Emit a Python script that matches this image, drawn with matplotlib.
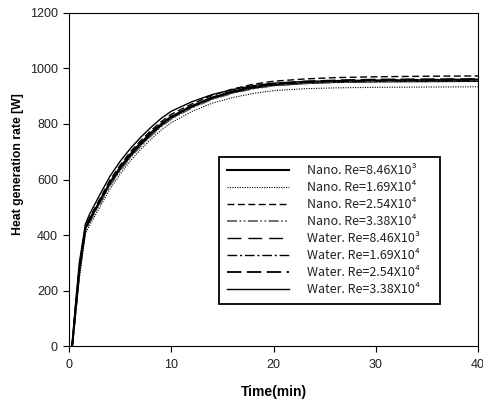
import matplotlib
matplotlib.use('Agg')
import matplotlib.pyplot as plt

# time axis (min) shared by all runs
time = [0.3, 0.6, 1.0, 1.6, 2, 3, 4, 5, 6, 7, 8, 9, 10, 12, 14, 16, 18, 20, 23, 26, 30, 35, 40]

nano_846e3 = [0, 120, 270, 425, 455, 520, 585, 638, 685, 725, 762, 795, 822, 862, 892, 914, 930, 940, 947, 951, 953, 954, 955]
nano_169e4 = [0, 95, 240, 405, 435, 500, 565, 620, 668, 708, 745, 778, 805, 845, 875, 895, 910, 920, 927, 930, 932, 933, 934]
nano_254e4 = [0, 125, 285, 430, 462, 530, 598, 652, 700, 740, 776, 808, 835, 872, 903, 926, 943, 954, 962, 967, 970, 972, 973]
nano_338e4 = [0, 105, 258, 415, 445, 512, 578, 632, 680, 720, 757, 790, 818, 858, 889, 911, 927, 938, 946, 951, 954, 956, 957]
water_846e3 = [0, 120, 275, 428, 458, 525, 592, 646, 694, 734, 770, 802, 828, 866, 896, 918, 934, 944, 952, 956, 959, 960, 961]
water_169e4 = [0, 110, 265, 420, 450, 518, 584, 640, 688, 728, 764, 796, 824, 862, 893, 915, 930, 941, 949, 953, 956, 957, 958]
water_254e4 = [0, 115, 272, 425, 455, 522, 590, 645, 692, 732, 768, 800, 827, 865, 896, 918, 934, 945, 953, 957, 960, 961, 962]
water_338e4 = [0, 140, 300, 440, 475, 545, 612, 666, 712, 752, 788, 820, 846, 880, 906, 924, 938, 947, 953, 956, 958, 959, 960]

labels = ['Nano. Re=8.46X10³', 'Nano. Re=1.69X10⁴', 'Nano. Re=2.54X10⁴', 'Nano. Re=3.38X10⁴',
          'Water. Re=8.46X10³', 'Water. Re=1.69X10⁴', 'Water. Re=2.54X10⁴', 'Water. Re=3.38X10⁴']
series = [nano_846e3, nano_169e4, nano_254e4, nano_338e4,
          water_846e3, water_169e4, water_254e4, water_338e4]

styles = [
    dict(color='black', lw=1.5, ls='-'),
    dict(color='black', lw=0.8, ls=(0, (1, 1.2))),
    dict(color='black', lw=1.0, ls=(0, (5, 2.5))),
    dict(color='#555555', lw=1.2, ls=(0, (6, 1.5, 1, 1.5, 1, 1.5))),
    dict(color='black', lw=1.0, ls=(0, (10, 5))),
    dict(color='black', lw=1.0, ls=(0, (7, 2, 1.5, 2))),
    dict(color='black', lw=1.3, ls=(0, (8, 3))),
    dict(color='black', lw=1.0, ls='-'),
]

fig = plt.figure(figsize=(4.83, 4.03), dpi=100)
ax = fig.add_axes([0.143, 0.141, 0.847, 0.827])

for y, lab, st in zip(series, labels, styles):
    ax.plot(time, y, label=lab, **st)

ax.set_xlim(0, 40)
ax.set_ylim(0, 1200)
ax.set_xticks([0, 10, 20, 30, 40])
ax.set_yticks(range(0, 1201, 200))
ax.tick_params(direction='out', length=4.5, width=0.8, labelsize=9)
ax.tick_params(axis='x', pad=5)
ax.tick_params(axis='y', pad=3.5)
for t in ax.get_xticklabels() + ax.get_yticklabels():
    t.set_fontfamily('Liberation Sans')
    t.set_color('#222222')
for s in ax.spines.values():
    s.set_linewidth(0.8)

fig.text(0.5663, 0.027, 'Time(min)', ha='center', va='center', fontsize=10,
         fontweight='bold', family='Liberation Sans')
fig.text(0.037, 0.592, 'Heat generation rate [W]', ha='center', va='center',
         rotation=90, fontsize=8.8, family='Liberation Sans', fontweight='bold')

leg = ax.legend(loc='upper left', bbox_to_anchor=(0.367, 0.13, 0.540, 0.438),
                mode='expand', borderaxespad=0,
                fancybox=False, framealpha=1, edgecolor='black',
                prop={'family': ['Noto Sans CJK KR', 'DejaVu Sans'], 'size': 9},
                handlelength=5.0, handletextpad=1.4, labelspacing=0.32,
                borderpad=0.6)
leg.get_frame().set_linewidth(1.3)
for txt in leg.get_texts():
    txt.set_color('#222222')

fig.savefig('out.png', dpi=100)
